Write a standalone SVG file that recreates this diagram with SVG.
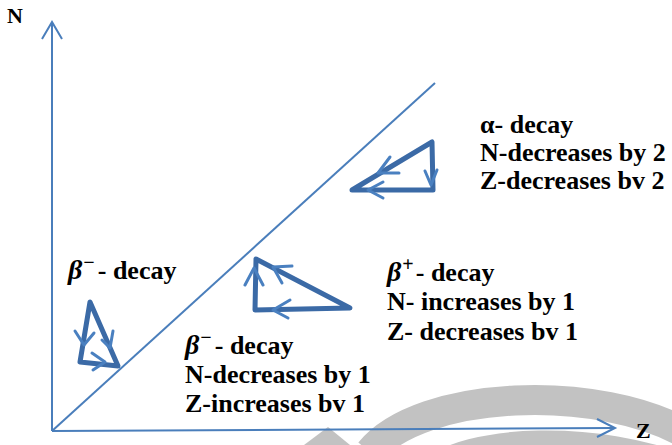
<svg xmlns="http://www.w3.org/2000/svg" width="672" height="445" viewBox="0 0 672 445">
<style>
.wm{fill:none;stroke:#c2c2c2}
.ax{fill:none;stroke:#4a7ebb;stroke-width:2}
.tri{fill:none;stroke:#3b6aa6;stroke-width:5;stroke-linejoin:round;stroke-linecap:round}
.chev{fill:none;stroke:#4a80c0;stroke-width:3;stroke-linecap:round;stroke-linejoin:round}
text{font-family:"Liberation Serif","Times New Roman",serif;font-weight:bold;fill:#000}
.lbl{font-size:26px}
.it{font-style:italic;font-size:28px}
.sup{font-size:20px}
</style>
<rect width="672" height="445" fill="#fff"/>
<g id="watermark">
<path class="wm" stroke-width="30" d="M370 452 C420 390 600 382 690 436"/>
<path class="wm" stroke-width="18" d="M425 470 C465 432 600 428 690 466"/>
<polygon points="304,445 328,427 350,445" fill="#c2c2c2"/>
</g>
<g id="connectors">
<line class="ax" x1="52" y1="431" x2="52" y2="22"/>
<polyline class="ax" points="42,39 52,22 62,39"/>
<line class="ax" x1="52" y1="431" x2="615" y2="428"/>
<polyline class="ax" points="597,419 615,428 597,437"/>
<line class="ax" stroke-width="1.5" x1="52" y1="431" x2="435" y2="83"/>
</g>
<g id="axis-labels">
<text x="7" y="23" font-size="22">N</text>
<text x="636" y="438" font-size="22">Z</text>
</g>
<g id="alpha-triangle">
<polygon class="tri" points="432,142 433,190 352,190"/>
<polyline class="chev" points="425,171 431,185 437,170"/>
<polyline class="chev" points="390,157 378,173 399,173"/>
<polyline class="chev" points="383,182 368,190 383,198"/>
</g>
<g id="beta-plus-triangle">
<polygon class="tri" points="256,259 255,310 350,308"/>
<polyline class="chev" points="292,266 273,267 282,283"/>
<polyline class="chev" points="245,285 254,268 263,285"/>
<polyline class="chev" points="290,300 273,310 288,318"/>
</g>
<g id="beta-minus-triangle">
<polygon class="tri" points="90,302 80,362 118,366"/>
<polyline class="chev" points="75,331 84,345 94,333"/>
<polyline class="chev" points="113,331 110,348 102,340"/>
<polyline class="chev" points="92,353 105,362 93,370"/>
</g>
<g id="alpha-label" class="lbl">
<text x="480" y="133">α- decay</text>
<text x="480" y="161">N-decreases by 2</text>
<text x="480" y="189">Z-decreases bv 2</text>
</g>
<g id="beta-plus-label" class="lbl">
<text x="387" y="281"><tspan class="it">β</tspan><tspan class="sup" dx="1" dy="-10">+</tspan><tspan dx="2" dy="10">- decay</tspan></text>
<text x="387" y="310">N- increases by 1</text>
<text x="387" y="340">Z- decreases bv 1</text>
</g>
<g id="beta-minus-upper-label" class="lbl">
<text x="68" y="279"><tspan class="it">β</tspan><tspan class="sup" dx="1" dy="-10">−</tspan><tspan dx="3" dy="10">- decay</tspan></text>
</g>
<g id="beta-minus-lower-label" class="lbl">
<text x="185" y="354"><tspan class="it">β</tspan><tspan class="sup" dx="1" dy="-10">−</tspan><tspan dx="3" dy="10">- decay</tspan></text>
<text x="185" y="383">N-decreases by 1</text>
<text x="185" y="412">Z-increases bv 1</text>
</g>
</svg>
